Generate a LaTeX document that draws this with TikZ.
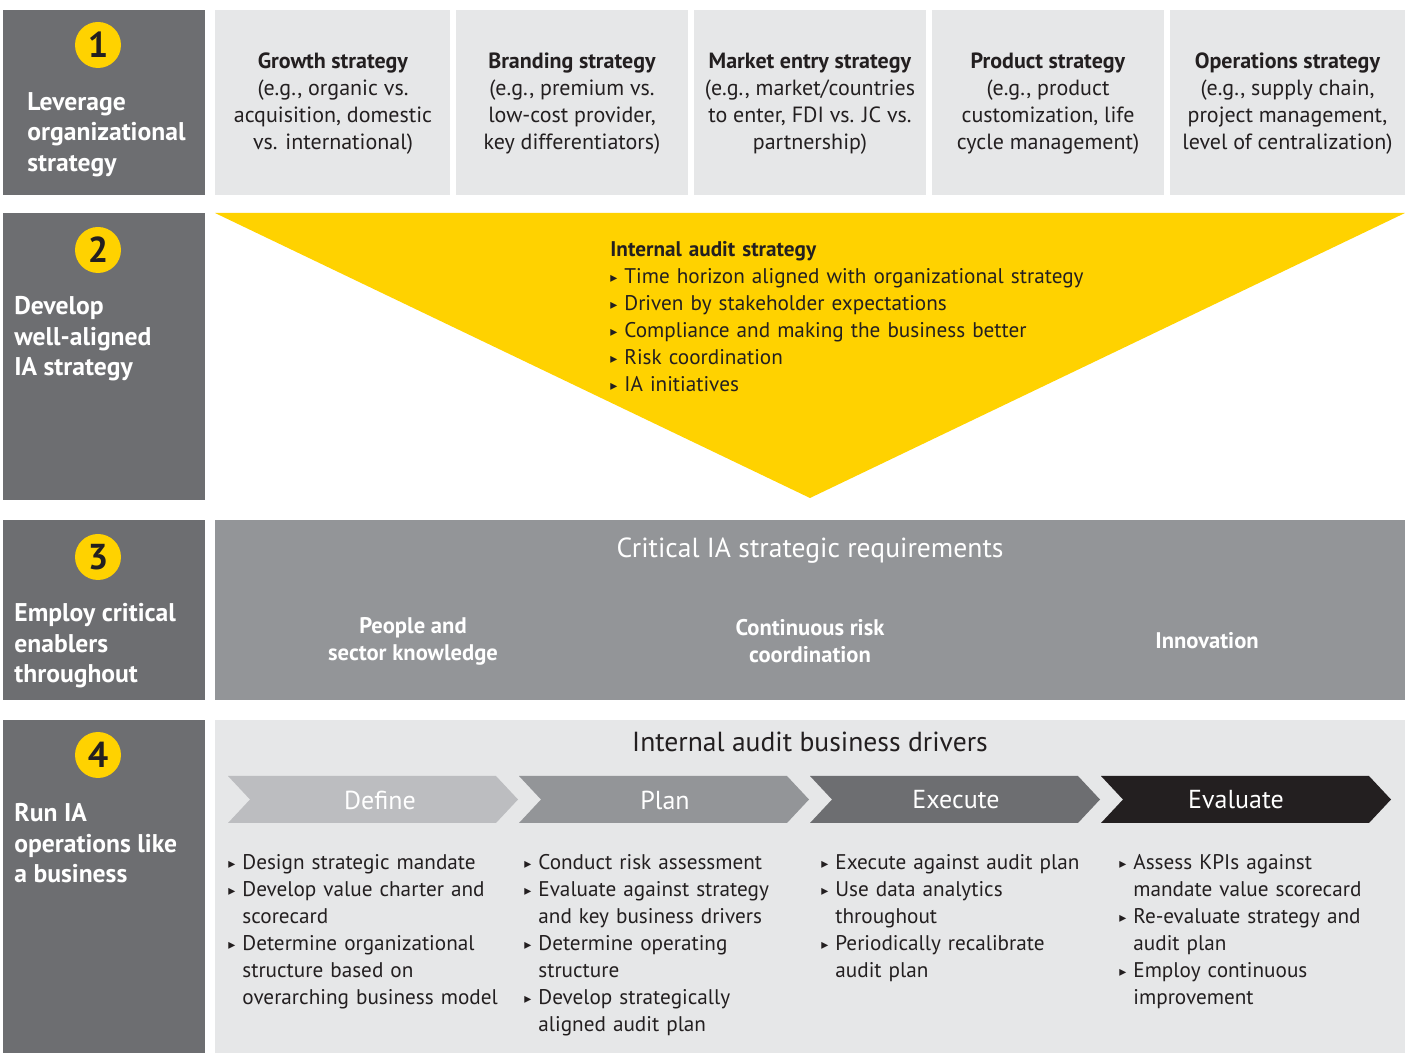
\documentclass[tikz,border=0pt]{standalone}
\usepackage{fontspec}
\setmainfont{PT Sans}
\newfontfamily\symfont{DejaVu Sans}
\usetikzlibrary{positioning}

\definecolor{eyyellow}{HTML}{FFD200}
\definecolor{eydark}{HTML}{6D6E71}
\definecolor{eymid}{HTML}{939598}
\definecolor{eylight}{HTML}{BCBDC0}
\definecolor{eypale}{HTML}{E6E7E8}
\definecolor{eyblack}{HTML}{231F20}

% bullet with hanging indent
\newcommand{\bul}{\par\noindent\hangindent=7pt\hangafter=1\makebox[7pt][l]{\raisebox{0.5pt}{\symfont\fontsize{7}{7}\selectfont ▸}}}

\tikzset{
  num/.style={circle,fill=eyyellow,minimum size=23pt,inner sep=0pt,text=eyblack,font=\fontsize{18}{18}\selectfont\bfseries},
  side/.style={anchor=north west,align=left,inner sep=0pt,text=white,font=\fontsize{12.8}{15.25}\selectfont\bfseries},
  strat/.style={align=center,text=eyblack,font=\fontsize{11}{13.5}\selectfont},
  req/.style={align=center,text=white,font=\fontsize{11.3}{13.5}\selectfont\bfseries},
  items/.style={anchor=north west,align=left,inner sep=0pt,text width=150pt,text=eyblack,font=\fontsize{10.6}{13.5}\selectfont},
  chevlab/.style={text=white,font=\fontsize{13}{13}\selectfont}
}

\begin{document}
\begin{tikzpicture}[x=0.5pt,y=-0.5pt]
\useasboundingbox (0,0) rectangle (1405,1053);

% left column
\foreach \ya/\yb in {10/195,213/500,520/700,720/1053}
  \fill[eydark] (3,\ya) rectangle (205,\yb);

\node[num] (n1) at (98,45) {1};
\node[num] (n2) at (98,250) {2};
\node[num] (n3) at (98,557) {3};
\node[num] (n4) at (98,755) {4};

\node[side] (leverage) at (27,92) {Leverage\\organizational\\strategy};
\node[side] (develop) at (14,296) {Develop\\well-aligned\\IA strategy};
\node[side] (employ) at (14,603) {Employ critical\\enablers\\throughout};
\node[side] (runia) at (14,803) {Run IA\\operations like\\a business};

% row 1: organizational strategies
\foreach \xa/\xb in {215/450,456/688,694/926,932/1164,1170/1405}
  \fill[eypale] (\xa,10) rectangle (\xb,195);
\node[strat] (growth) at (333,104) {\textbf{Growth strategy}\\(e.g., organic vs.\\acquisition, domestic\\vs. international)};
\node[strat] (branding) at (572,104) {\textbf{Branding strategy}\\(e.g., premium vs.\\low-cost provider,\\key differentiators)};
\node[strat] (market) at (810,104) {\textbf{Market entry strategy}\\(e.g., market/countries\\to enter, FDI vs. JC vs.\\partnership)};
\node[strat] (product) at (1048,104) {\textbf{Product strategy}\\(e.g., product\\customization, life\\cycle management)};
\node[strat] (operations) at (1287.5,104) {\textbf{Operations strategy}\\(e.g., supply chain,\\project management,\\level of centralization)};

% row 2: funnel
\fill[eyyellow] (215,213) -- (1405,213) -- (810,498) -- cycle;
\node[items,text width=250pt] (iastrat) at (610,241) {\textbf{Internal audit strategy}
  \bul Time horizon aligned with organizational strategy
  \bul Driven by stakeholder expectations
  \bul Compliance and making the business better
  \bul Risk coordination
  \bul IA initiatives\par};

% row 3: requirements
\fill[eymid] (215,520) rectangle (1405,700);
\node[text=white,font=\fontsize{13.8}{13.8}\selectfont] (critical) at (810,551) {Critical IA strategic requirements};
\node[req] (people) at (413,641) {People and\\sector knowledge};
\node[req] (riskco) at (810,641) {Continuous risk\\coordination};
\node[req] (innov) at (1207,641) {Innovation};

% row 4: business drivers
\fill[eypale] (215,720) rectangle (1405,1053);
\node[text=eyblack,font=\fontsize{13.8}{13.8}\selectfont] (drivers) at (810,742) {Internal audit business drivers};
\foreach \xs/\dx/\col/\lab in {228/152/eylight/Define,519/146/eymid/Plan,810/146/eydark/Execute,1101/135/eyblack/Evaluate}{
  \fill[\col] (\xs,776) -- ++(268,0) -- ++(22,23.5) -- ++(-22,23.5) -- ++(-268,0) -- ++(22,-23.5) -- cycle;
  \node[chevlab] (chev-\lab) at (\xs+\dx,800) {\lab};
}

\node[items] (define) at (228,842) {
  \bul Design strategic mandate
  \bul Develop value charter and\newline scorecard
  \bul Determine organizational\newline structure based on\newline overarching business model\par};
\node[items] (plan) at (524,842) {
  \bul Conduct risk assessment
  \bul Evaluate against strategy\newline and key business drivers
  \bul Determine operating\newline structure
  \bul Develop strategically\newline aligned audit plan\par};
\node[items] (execute) at (821,842) {
  \bul Execute against audit plan
  \bul Use data analytics\newline throughout
  \bul Periodically recalibrate\newline audit plan\par};
\node[items] (evaluate) at (1119,842) {
  \bul Assess KPIs against\newline mandate value scorecard
  \bul Re-evaluate strategy and\newline audit plan
  \bul Employ continuous\newline improvement\par};
\end{tikzpicture}
\end{document}
